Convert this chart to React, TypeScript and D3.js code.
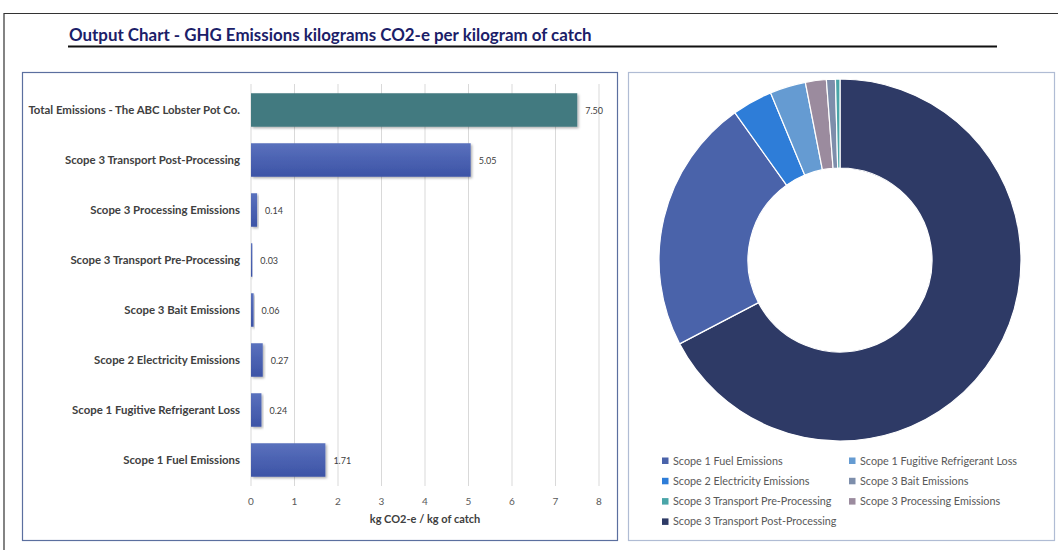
import React from "react";
import * as d3 from "d3";

const barCategories = [
  "Total Emissions - The ABC Lobster Pot Co.",
  "Scope 3 Transport Post-Processing",
  "Scope 3 Processing Emissions",
  "Scope 3 Transport Pre-Processing",
  "Scope 3 Bait Emissions",
  "Scope 2 Electricity Emissions",
  "Scope 1 Fugitive Refrigerant Loss",
  "Scope 1 Fuel Emissions",
];
const barValues = [7.5, 5.05, 0.14, 0.03, 0.06, 0.27, 0.24, 1.71];
const xTicks = [0, 1, 2, 3, 4, 5, 6, 7, 8];

const pieLabels = [
  "Scope 3 Transport Post-Processing",
  "Scope 1 Fuel Emissions",
  "Scope 2 Electricity Emissions",
  "Scope 1 Fugitive Refrigerant Loss",
  "Scope 3 Processing Emissions",
  "Scope 3 Bait Emissions",
  "Scope 3 Transport Pre-Processing",
];
const pieValues = [5.05, 1.71, 0.27, 0.24, 0.14, 0.06, 0.03];
const pieColors = ["#2e3a66", "#4a63aa", "#2e7dd8", "#659bd2", "#9b8b9e", "#7d8eab", "#4aa5a8"];

const legendOrder = [
  "Scope 1 Fuel Emissions",
  "Scope 1 Fugitive Refrigerant Loss",
  "Scope 2 Electricity Emissions",
  "Scope 3 Bait Emissions",
  "Scope 3 Transport Pre-Processing",
  "Scope 3 Processing Emissions",
  "Scope 3 Transport Post-Processing",
];

const FONT = "Lato, 'Open Sans', sans-serif";

export default function App() {
  const x = d3.scaleLinear().domain([0, 8]).range([251, 599]);
  const y = d3.scaleBand().domain(barCategories).range([85, 485]).paddingInner(0.33).paddingOuter(0.165);

  const pie = d3.pie<number>().sort(null).value((d) => d);
  const arcs = pie(pieValues);
  const arc = d3.arc<d3.PieArcDatum<number>>().innerRadius(92).outerRadius(181);
  const cx = 840, cy = 260;

  return (
    <svg width={1058} height={550} style={{ position: "absolute", left: 0, top: 0 }} fontFamily={FONT}>
      <defs>
        <linearGradient id="barGrad" x1="0" y1="0" x2="0" y2="1">
          <stop offset="0%" stopColor="#5a71bd" />
          <stop offset="100%" stopColor="#3c53a6" />
        </linearGradient>
        <filter id="shadow" x="-10%" y="-20%" width="130%" height="160%">
          <feDropShadow dx="1.5" dy="1.5" stdDeviation="1" floodColor="#000" floodOpacity="0.3" />
        </filter>
      </defs>
      <rect x={0} y={0} width={1058} height={550} fill="#fff" />
      {/* outer frame */}
      <path d="M4,550 L4,13.5 L1058,13.5" fill="none" stroke="#333" strokeWidth={1.2} />
      {/* title */}
      <text x={69} y={41} fontSize={16.9} fontWeight="bold" fill="#1b2068">
        Output Chart - GHG Emissions kilograms CO2-e per kilogram of catch
      </text>
      <line x1={68} x2={997} y1={46.5} y2={46.5} stroke="#111" strokeWidth={2} />

      {/* left panel */}
      <rect x={22.5} y={72.5} width={595} height={468} fill="#fff" stroke="#5b6f9f" strokeWidth={1.2} />
      {xTicks.map((t) => (
        <g key={t}>
          <line x1={x(t)} x2={x(t)} y1={84} y2={486} stroke="#d9d9d9" strokeWidth={1} />
          <text x={x(t)} y={505} fontSize={10} fill="#595959" textAnchor="middle">{t}</text>
        </g>
      ))}
      {barCategories.map((c, i) => {
        const v = barValues[i];
        const yy = y(c)!;
        const h = y.bandwidth();
        return (
          <g key={c}>
            <rect x={x(0)} y={yy} width={Math.max(x(v) - x(0), 1)} height={h}
              fill={i === 0 ? "#437a80" : "url(#barGrad)"} filter="url(#shadow)" />
            <text x={x(v) + 8} y={yy + h / 2 + 4} fontSize={9} fill="#404040">{v.toFixed(2)}</text>
            <text x={240} y={yy + h / 2 + 4} fontSize={11.4} fontWeight="bold" fill="#404040" textAnchor="end">{c}</text>
          </g>
        );
      })}
      <text x={425} y={523} fontSize={11} fontWeight="bold" fill="#404040" textAnchor="middle">kg CO2-e / kg of catch</text>

      {/* right panel */}
      <rect x={628.5} y={72.5} width={426} height={468} fill="#fff" stroke="#b0bcd4" strokeWidth={1.2} />
      <g transform={`translate(${cx},${cy})`}>
        {arcs.map((a, i) => (
          <path key={i} d={arc(a)!} fill={pieColors[i]} stroke="#fff" strokeWidth={1.2} />
        ))}
      </g>
      {legendOrder.map((l, i) => {
        const col = i % 2;
        const row = Math.floor(i / 2);
        const lx = col === 0 ? 662 : 849;
        const ly = 461 + row * 20.3;
        const ci = pieLabels.indexOf(l);
        return (
          <g key={l}>
            <rect x={lx} y={ly - 3.5} width={6.5} height={6.5} fill={pieColors[ci]} />
            <text x={lx + 11} y={ly + 3.5} fontSize={10.8} fill="#595959">{l}</text>
          </g>
        );
      })}
    </svg>
  );
}
